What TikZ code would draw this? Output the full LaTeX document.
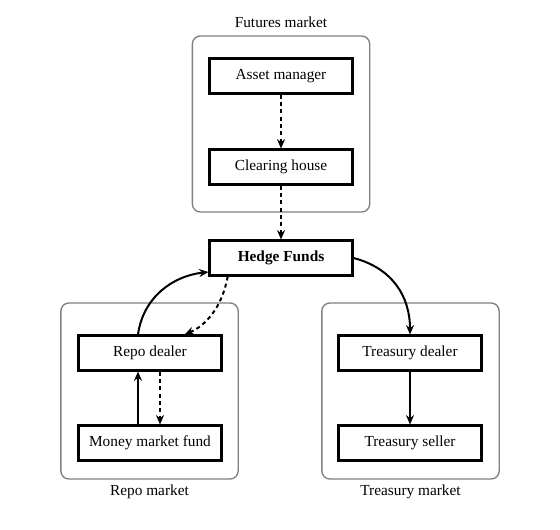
\documentclass[tikz,border=0pt]{standalone}
\usepackage{fontspec}
\setmainfont{Liberation Serif}
\usetikzlibrary{arrows.meta}

\begin{document}
\begin{tikzpicture}[x = 0.75pt, y = -0.75pt,
        actor/.style = {draw, line width = 1.8pt, minimum width = 107pt, minimum height = 26pt, inner sep = 0pt},
        market/.style = {draw = gray, line width = 1pt, rounded corners = 6pt, minimum width = 133pt, minimum height = 132pt},
        flow/.style = {-{Stealth[length = 7pt, width = 6pt]}, line width = 1.5pt},
        cash/.style = {flow, dash pattern = on 3pt off 2.5pt}]
        \useasboundingbox (0,0) rectangle (560,529);
        \begin{scope}[every node/.append style = {font = \fontsize{11.5}{13}\selectfont}]
            \node[market] (futures) at (281,124) {};
            \node[market] (repomkt) at (149.5,391) {};
            \node[market] (treasurymkt) at (410.5,391) {};
            \node at (281,22) {Futures market};
            \node at (149.5,492) {Repo market};
            \node at (410.5,492) {Treasury market};
            \foreach \name/\x/\y/\txt in {asset/281/76/Asset manager, clearing/281/167/Clearing house,
                    repo/150/353/Repo dealer, mmf/150/443/Money market fund,
                    tdealer/410/353/Treasury dealer, tseller/410/443/Treasury seller} {
                \node[actor, fill = white] (\name) at (\x,\y) {\txt};
            }
            \node[actor] (hedge) at (281,258) {\textbf{Hedge Funds}};
        \end{scope}
        \draw[cash] (asset) -- (clearing);
        \draw[cash] (clearing) -- (hedge);
        \draw[flow] ([xshift = -9pt]repo.north) .. controls (143,298) and (172,276) .. ([yshift = -10.5pt]hedge.west);
        \draw[cash] ([xshift = -40pt]hedge.south) .. controls (222,308) and (205,326) .. ([xshift = 26pt]repo.north);
        \draw[flow] ([xshift = -9pt]mmf.north) -- ([xshift = -9pt]repo.south);
        \draw[cash] ([xshift = 7.5pt]repo.south) -- ([xshift = 7.5pt]mmf.north);
        \draw[flow] (hedge.east) .. controls (392,268) and (410,296) .. (tdealer.north);
        \draw[flow] (tdealer) -- (tseller);
    \end{tikzpicture}
\end{document}
